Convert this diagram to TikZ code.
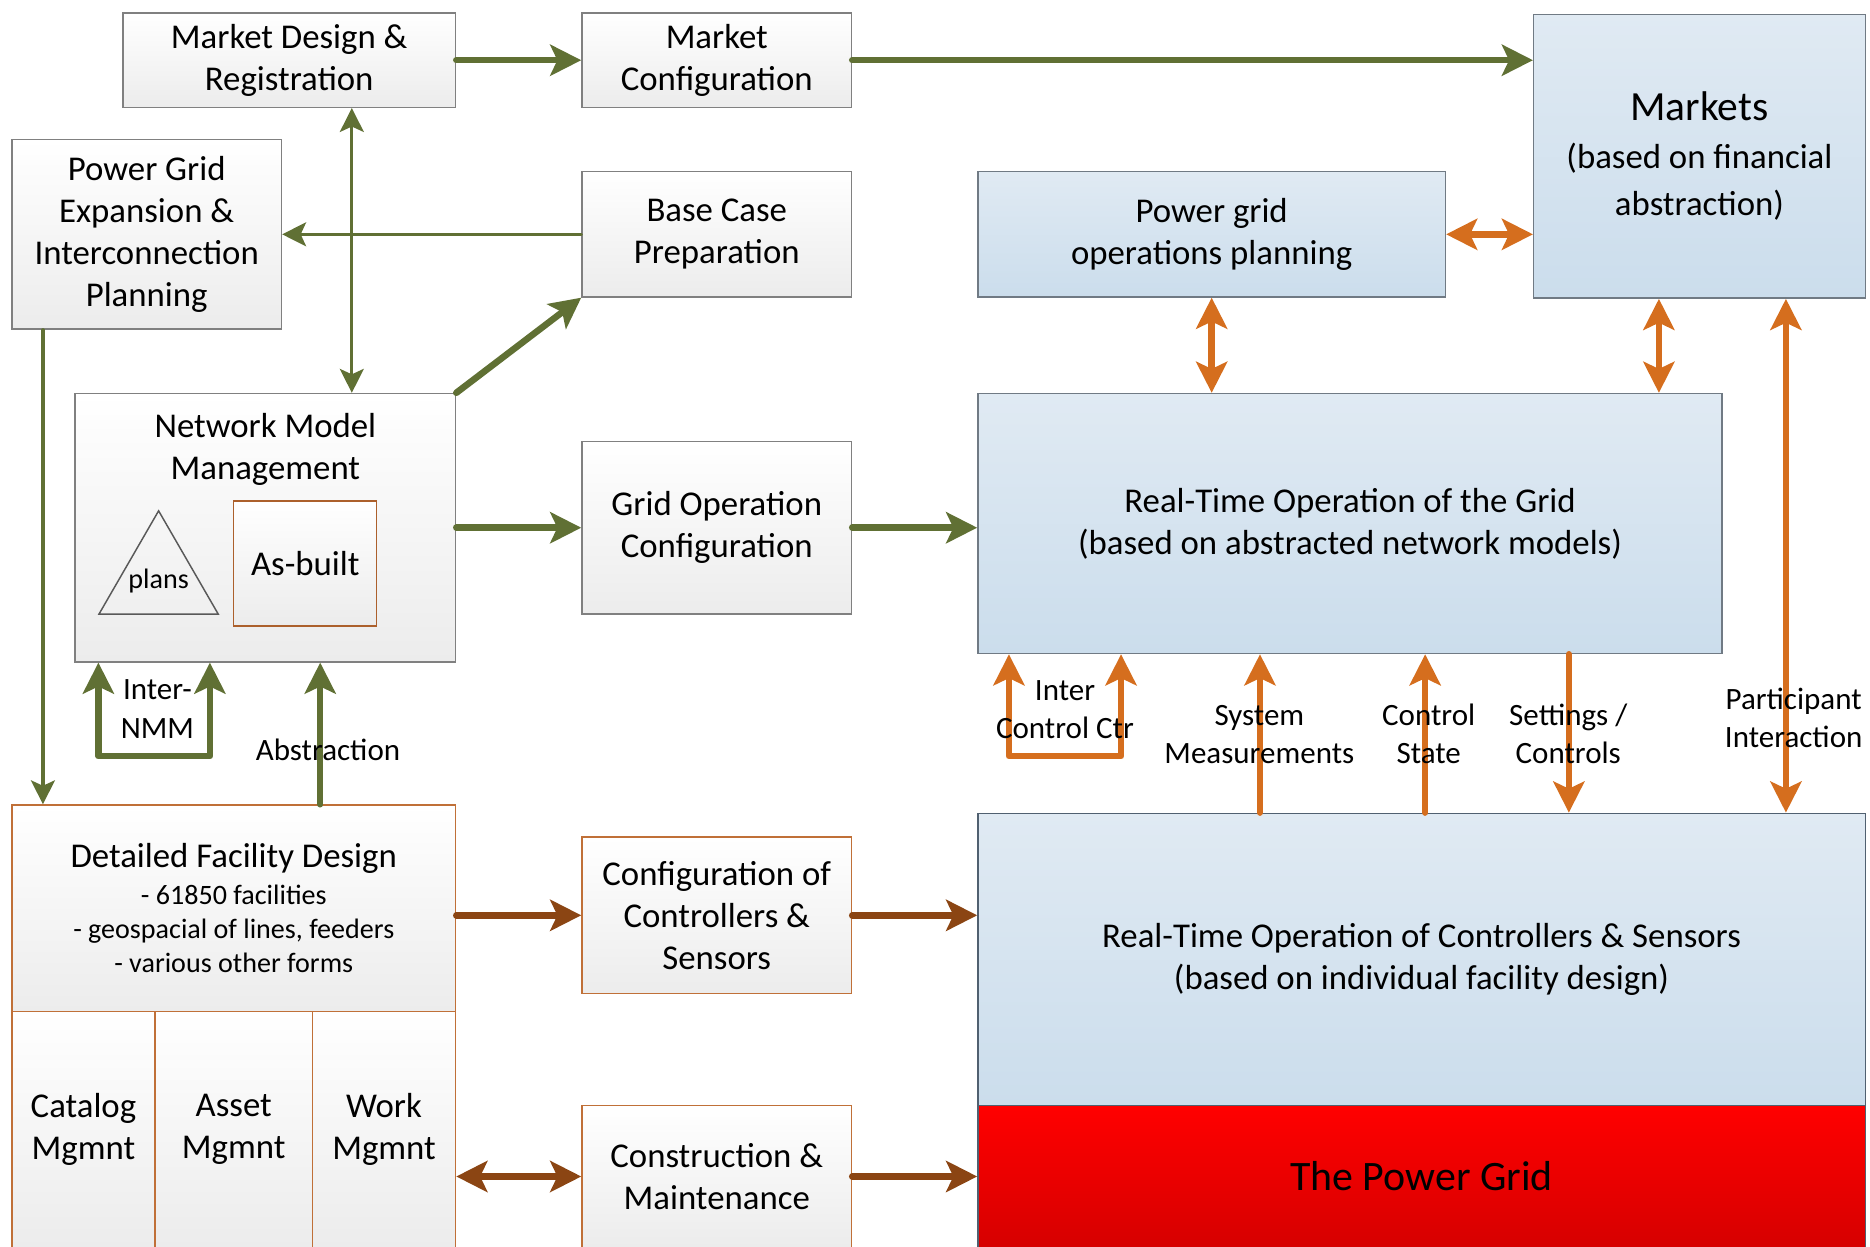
\documentclass[tikz,border=0pt]{standalone}
\usepackage{fontspec}
\setmainfont{Carlito}
\usetikzlibrary{arrows.meta,shapes.geometric}
\definecolor{grn}{RGB}{96,112,52}
\definecolor{brn}{RGB}{139,69,19}
\definecolor{org}{RGB}{213,110,30}
\definecolor{bdr}{RGB}{128,128,128}
\definecolor{bbdr}{RGB}{192,112,56}
\definecolor{abdr}{RGB}{172,96,44}
\definecolor{blbdr}{RGB}{112,122,132}
\definecolor{dbdr}{RGB}{80,96,112}
\definecolor{gtop}{RGB}{255,255,255}
\definecolor{gbot}{RGB}{236,236,236}
\definecolor{bltop}{RGB}{224,234,243}
\definecolor{blbot}{RGB}{203,221,236}
\definecolor{rdtop}{RGB}{255,0,0}
\definecolor{rdbot}{RGB}{214,0,0}
\tikzset{
  BigTip/.tip={Stealth[length=2.6mm,width=2.6mm,inset=0.6mm]},
  SmTip/.tip={Stealth[length=2mm,width=2mm,inset=0.45mm]},
  basebox/.style={line width=0.35pt, inner sep=0pt, align=center,
    font=\fontsize{8.3}{10.05}\selectfont},
  gbox/.style={basebox, draw=bdr, top color=gtop, bottom color=gbot},
  bbox/.style={basebox, draw=bbdr, top color=gtop, bottom color=gbot},
  blbox/.style={basebox, draw=blbdr, top color=bltop, bottom color=blbot},
  redbox/.style={basebox, draw=dbdr, top color=rdtop, bottom color=rdbot,
    font=\fontsize{10}{12}\selectfont},
  txt/.style={inner sep=0pt, align=center, font=\fontsize{8.3}{10.05}\selectfont},
  lbl/.style={inner sep=0pt, align=center, font=\fontsize{7.4}{9.1}\selectfont},
  thk/.style={line width=0.55mm, line cap=round, line join=round},
  thn/.style={line width=0.28mm, line cap=round, line join=round},
  gk/.style={draw=grn, thk, -BigTip},
  gkk/.style={draw=grn, thk, BigTip-BigTip},
  gn/.style={draw=grn, thn, -SmTip},
  gnn/.style={draw=grn, thn, SmTip-SmTip},
  bk/.style={draw=brn, thk, -BigTip},
  bkk/.style={draw=brn, thk, BigTip-BigTip},
  ok/.style={draw=org, thk, -BigTip},
  okk/.style={draw=org, thk, BigTip-BigTip},
}
\begin{document}
\begin{tikzpicture}[x=0.1mm,y=-0.1mm]
\useasboundingbox (0,0) rectangle (1568,1045);
\clip (0,0) rectangle (1568,1045);

% ---------- left / middle gray boxes ----------
\node[gbox, minimum width=27.9mm, minimum height=7.9mm] (mdr) at (242.5,50.5) {Market Design \&\\Registration};
\node[gbox, minimum width=22.6mm, minimum height=7.9mm] (mc) at (601,50.5) {Market\\Configuration};
\node[gbox, minimum width=22.6mm, minimum height=15.9mm] (pge) at (123,196.5) {Power Grid\\Expansion \&\\Interconnection\\Planning};
\node[gbox, minimum width=22.6mm, minimum height=10.5mm] (bcp) at (601,196.5) {Base Case\\Preparation};
\node[gbox, minimum width=31.9mm, minimum height=22.5mm] (nmm) at (222.5,442.5) {};
\node[txt] (nmmt) at (222.5,376.5) {Network Model\\Management};
\node[draw=black!65, line width=0.35pt, regular polygon, regular polygon sides=3,
      minimum size=11.55mm, inner sep=0pt] (plans) at (133,486.1) {};
\node[inner sep=0pt, font=\fontsize{6.7}{8}\selectfont] (plt) at (133,487) {plans};
\node[basebox, draw=abdr, line width=0.3pt, top color=gtop, bottom color=gbot, minimum width=12mm, minimum height=10.5mm] (asb) at (256,472.5) {As-built};
\node[gbox, minimum width=22.6mm, minimum height=14.5mm] (goc) at (601,442.5) {Grid Operation\\Configuration};

% ---------- detailed facility design ----------
\node[bbox, minimum width=37.2mm, minimum height=17.3mm, font=\fontsize{6.7}{8.1}\selectfont] (dfd) at (196,761.5)
  {{\fontsize{8.3}{8.1}\selectfont Detailed Facility Design}\\[0.8pt]- 61850 facilities\\- geospacial of lines, feeders\\- various other forms};
\node[bbox, minimum width=12mm, minimum height=19.8mm] (cat) at (70,947) {Catalog\\Mgmnt};
\node[bbox, minimum width=13.2mm, minimum height=19.8mm] (ast) at (196,947) {Asset\\Mgmnt};
\node[bbox, minimum width=12mm, minimum height=19.8mm] (wrk) at (322,947) {Work\\Mgmnt};
\node[bbox, minimum width=22.6mm, minimum height=13.1mm] (ccs) at (601,767.5) {Configuration of\\Controllers \&\\Sensors};
\node[bbox, minimum width=22.6mm, minimum height=11.9mm] (cm) at (601,986.5) {Construction \&\\Maintenance};

% ---------- blue boxes ----------
\node[blbox, minimum width=27.8mm, minimum height=23.8mm, font=\fontsize{8.3}{11.4}\selectfont] (mkt) at (1425,131)
  {{\fontsize{9.9}{11.4}\selectfont Markets}\\(based on financial\\abstraction)};
\node[blbox, minimum width=39.2mm, minimum height=10.5mm] (pgop) at (1016,196.5) {Power grid\\operations planning};
\node[blbox, minimum width=62.4mm, minimum height=21.8mm] (rtog) at (1132,439) {Real-Time Operation of the Grid\\(based on abstracted network models)};
\node[blbox, draw=dbdr, minimum width=74.4mm, minimum height=24.5mm] (rtocs) at (1192,804.5) {Real-Time Operation of Controllers \& Sensors\\(based on individual facility design)};
\node[redbox, minimum width=74.4mm, minimum height=11.9mm] (pg) at (1192,986.5) {The Power Grid};

% ---------- helper coordinates ----------
\coordinate (x36) at (36,0);
\coordinate (x268) at (268.5,0);
\coordinate (x295) at (295,0);
\coordinate (ib1) at (82.5,634);
\coordinate (ib2) at (176,634);
\coordinate (oc1) at (846,634);
\coordinate (oc2) at (940,634);
\coordinate (x1056) at (1056.5,0);
\coordinate (x1195) at (1195,0);
\coordinate (x1315) at (1315.5,0);
\coordinate (x1391) at (1391,0);
\coordinate (x1498) at (1497.5,0);

% ---------- green connectors ----------
\draw[gk] (mdr.east) -- (mc.west);
\draw[gk] (mc.east) -- (mc.east -| mkt.west);
\draw[gn] (bcp.west) -- (pge.east);
\draw[gnn] (mdr.south -| x295) -- (nmm.north -| x295);
\draw[gk] (nmm.north east) -- (bcp.south west);
\draw[gk] (nmm.east) -- (goc.west);
\draw[gk] (goc.east) -- (goc.east -| rtog.west);
\draw[gn] (pge.south -| x36) -- (dfd.north -| x36);
\draw[gk] (dfd.north -| x268) -- (nmm.south -| x268);
\draw[gkk] (nmm.south -| ib1) -- (ib1) -- (ib2) -- (nmm.south -| ib2);

% ---------- brown connectors ----------
\draw[bk] (ccs.west -| dfd.east) -- (ccs.west);
\draw[bk] (ccs.east) -- (ccs.east -| rtocs.west);
\draw[bkk] (wrk.east |- cm.west) -- (cm.west);
\draw[bk] (cm.east) -- (pg.west);

% ---------- orange connectors ----------
\draw[okk] (pgop.east) -- (pgop.east -| mkt.west);
\draw[okk] (pgop.south) -- (pgop.south |- rtog.north);
\draw[okk] (mkt.south -| x1391) -- (rtog.north -| x1391);
\draw[okk] (mkt.south -| x1498) -- (rtocs.north -| x1498);
\draw[okk] (rtog.south -| oc1) -- (oc1) -- (oc2) -- (rtog.south -| oc2);
\draw[ok] (rtocs.north -| x1056) -- (rtog.south -| x1056);
\draw[ok] (rtocs.north -| x1195) -- (rtog.south -| x1195);
\draw[ok] (rtog.south -| x1315) -- (rtocs.north -| x1315);

% ---------- labels ----------
\node[lbl] (linmm) at (132,594.5) {Inter-\\NMM};
\node[lbl] (labs) at (275,629) {Abstraction};
\node[lbl] (licc) at (893,595) {Inter\\Control Ctr};
\node[lbl] (lsys) at (1056,616) {System\\Measurements};
\node[lbl] (lcst) at (1198,615) {Control\\State};
\node[lbl] (lset) at (1315,615) {Settings /\\Controls};
\node[lbl] (lpart) at (1504,602) {Participant\\Interaction};
\end{tikzpicture}
\end{document}
